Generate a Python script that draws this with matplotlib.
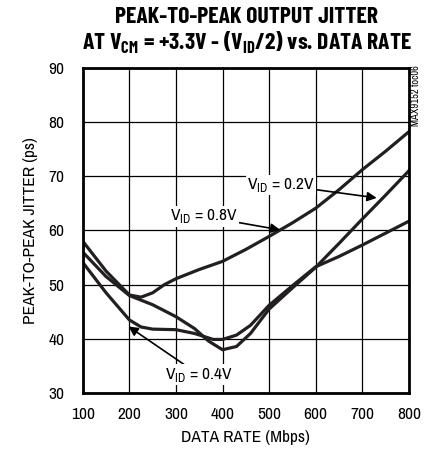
import matplotlib
matplotlib.use('Agg')
import matplotlib.pyplot as plt

# data =================================================
rate_08 = [100, 150, 200, 225, 250, 275, 300, 350, 400, 450, 500, 550, 600, 650, 700, 750, 800]
vid_08 = [58.0, 52.5, 48.1, 47.7, 48.5, 50.0, 51.1, 52.8, 54.3, 56.5, 58.9, 61.4, 64.1, 67.5, 71.2, 74.6, 78.2]
rate_02 = [100, 150, 200, 250, 300, 340, 370, 400, 430, 460, 500, 550, 600, 650, 700, 750, 800]
vid_02 = [56.0, 51.5, 48.0, 46.3, 44.1, 41.9, 39.6, 38.0, 38.6, 41.0, 45.5, 49.4, 53.2, 57.6, 62.1, 66.5, 71.0]
rate_04 = [100, 150, 200, 225, 250, 300, 340, 380, 400, 430, 460, 500, 550, 600, 650, 700, 750, 800]
vid_04 = [54.1, 48.5, 43.5, 42.2, 41.8, 41.7, 41.0, 39.9, 39.9, 40.7, 42.5, 46.2, 49.8, 53.3, 55.2, 57.3, 59.5, 61.7]
xticks = [100, 200, 300, 400, 500, 600, 700, 800]
yticks = [30, 40, 50, 60, 70, 80, 90]
#======================================================

font = 'Archivo Narrow'
bold = 'Barlow Condensed'
plt.rcParams['font.family'] = [font, 'DejaVu Sans']
plt.rcParams['mathtext.fontset'] = 'custom'
plt.rcParams['mathtext.rm'] = font
plt.rcParams['mathtext.bf'] = bold + ':bold'

fig = plt.figure(figsize=(4.29, 4.55), dpi=100)
ax = fig.add_axes([0.193, 0.136, 0.760, 0.715])

for x, y in ((rate_08, vid_08), (rate_02, vid_02), (rate_04, vid_04)):
    ax.plot(x, y, color='#231f20', lw=2.3, solid_joinstyle='round')

ax.set_xlim(100, 800)
ax.set_ylim(30, 90)
ax.set_xticks(xticks)
ax.set_yticks(yticks)
ax.grid(True, color='black', lw=0.9)
ax.tick_params(length=0, labelsize=12.5)
ax.tick_params(axis='x', pad=10)
ax.tick_params(axis='y', pad=13)
for s in ax.spines.values():
    s.set_linewidth(2)
ax.set_xlabel('DATA RATE (Mbps)', fontsize=12.5, labelpad=6)
ax.set_ylabel('PEAK-TO-PEAK JITTER (ps)', fontsize=12.5, labelpad=8)

fig.text(0.575, 0.962, 'PEAK-TO-PEAK OUTPUT JITTER', ha='center', va='center',
         fontsize=17, fontweight='bold', family=bold)
fig.text(0.575, 0.905, r'AT V$_{\mathbf{CM}}$ = +3.3V - (V$_{\mathbf{ID}}$/2) vs. DATA RATE',
         ha='center', va='center', fontsize=17, fontweight='bold', family=bold)
fig.text(0.970, 0.79, 'MAX9152 toc06', rotation=90, ha='center', va='center', fontsize=7.5)

arrow = dict(arrowstyle='-|>', color='black', lw=1.2, mutation_scale=14, shrinkA=0, shrinkB=0)
ax.annotate(r'V$_{\mathrm{ID}}$ = 0.2V', xy=(731, 66), xytext=(453, 68.4),
            fontsize=12.5, va='center', ha='left', arrowprops=arrow,
            bbox=dict(fc='white', ec='none', pad=1))
ax.annotate(r'V$_{\mathrm{ID}}$ = 0.8V', xy=(524, 60.1), xytext=(287, 62.6),
            fontsize=12.5, va='center', ha='left', arrowprops=arrow,
            bbox=dict(fc='white', ec='none', pad=1))
ax.annotate(r'V$_{\mathrm{ID}}$ = 0.4V', xy=(198, 42.3), xytext=(277, 33.4),
            fontsize=12.5, va='center', ha='left', arrowprops=arrow,
            bbox=dict(fc='white', ec='none', pad=1))

fig.savefig('out.png', dpi=100)
